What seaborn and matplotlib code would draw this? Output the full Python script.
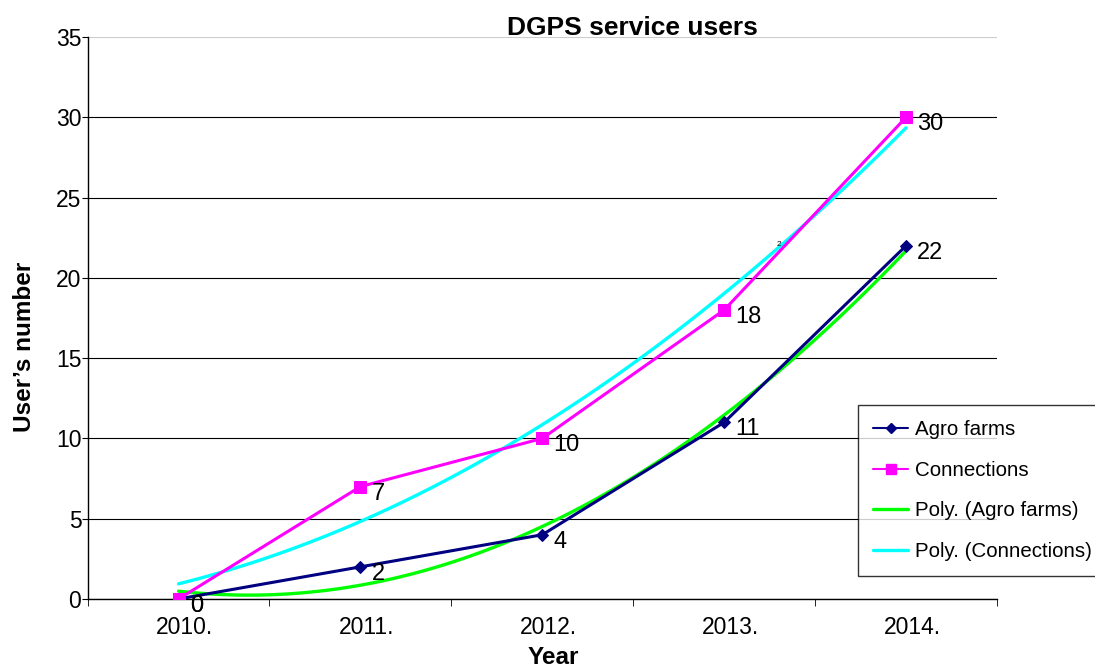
import numpy as np
import pandas as pd
import matplotlib
matplotlib.use('Agg')
import matplotlib.pyplot as plt
import matplotlib.transforms as mtransforms
import seaborn as sns
from matplotlib.lines import Line2D

# Chart data
years = ['2010.', '2011.', '2012.', '2013.', '2014.']
agro_farms = [0, 2, 4, 11, 22]
connections = [0, 7, 10, 18, 30]

sns.set_style('white')
plt.rcParams['font.family'] = ['Liberation Sans', 'DejaVu Sans']
plt.rcParams['text.color'] = 'black'
plt.rcParams['xtick.color'] = 'black'
plt.rcParams['ytick.color'] = 'black'
plt.rcParams['axes.labelcolor'] = 'black'

df = pd.DataFrame({'x': range(len(years)), 'Agro farms': agro_farms, 'Connections': connections})

fig = plt.figure(figsize=(10.95, 6.67), dpi=100)
ax = fig.add_axes([0.080, 0.102, 0.8305, 0.8425])

navy = '#000080'
magenta = '#FF00FF'
green = '#00FF00'
cyan = '#00FFFF'

# Polynomial (order 2) trendlines
sns.regplot(data=df, x='x', y='Agro farms', order=2, ci=None, scatter=False,
            line_kws={'color': green, 'lw': 2.4, 'zorder': 2}, ax=ax)
sns.regplot(data=df, x='x', y='Connections', order=2, ci=None, scatter=False,
            line_kws={'color': cyan, 'lw': 2.4, 'zorder': 2}, ax=ax)

# Data series
sns.lineplot(data=df, x='x', y='Agro farms', color=navy, lw=2.2, marker='D',
             markersize=6, markeredgecolor=navy, ax=ax, zorder=3)
sns.lineplot(data=df, x='x', y='Connections', color=magenta, lw=2.2, marker='s',
             markersize=9, markeredgecolor=magenta, ax=ax, zorder=3)

# Data labels
for xi, v in zip(df['x'], agro_farms):
    ax.annotate(str(v), (xi, v), xytext=(8, -5), textcoords='offset points',
                ha='left', va='center', fontsize=17)
for xi, v in zip(df['x'], connections):
    ax.annotate(str(v), (xi, v), xytext=(8, -5), textcoords='offset points',
                ha='left', va='center', fontsize=17)
ax.text(3.3, 22.1, '2', fontsize=6, ha='center', va='center')

ax.set_xlim(-0.5, 4.5)
ax.set_ylim(0, 35)
ax.set_yticks(range(0, 36, 5))
ax.set_xticks(range(len(years)))
ax.set_xticklabels(years)
ax.set_xticks(np.arange(-0.5, 4.6, 1), minor=True)
ax.tick_params(axis='x', which='major', length=0, labelsize=16.5, pad=12)
ax.tick_params(axis='x', which='minor', length=5, direction='out', color='black', bottom=True)
ax.tick_params(axis='y', length=4, direction='out', color='black', left=True, labelsize=16.5, pad=0.5)
shift = mtransforms.ScaledTranslation(6 / 100, 0, fig.dpi_scale_trans)
for lab in ax.get_xticklabels():
    lab.set_transform(lab.get_transform() + shift)

ax.yaxis.grid(True, color='black', lw=0.8)
ax.set_axisbelow(True)
ax.yaxis.get_gridlines()[-1].set_color('#cccccc')
for s in ['top', 'right']:
    ax.spines[s].set_visible(False)
for s in ['left', 'bottom']:
    ax.spines[s].set_color('black')
    ax.spines[s].set_linewidth(1)

ax.set_xlabel('')
ax.set_ylabel('')
fig.text(0.578, 0.9475, 'DGPS service users', fontsize=19, fontweight='bold',
         ha='center', va='baseline')
fig.text(0.505, 0.005, 'Year', fontsize=17.5, fontweight='bold', ha='center', va='baseline')
fig.text(0.022, 0.48, 'User\u2019s number', fontsize=17.5, fontweight='bold',
         ha='center', va='center', rotation=90)

handles = [
    Line2D([], [], color=navy, lw=1.5, marker='D', markersize=5),
    Line2D([], [], color=magenta, lw=1.5, marker='s', markersize=7),
    Line2D([], [], color=green, lw=2.4),
    Line2D([], [], color=cyan, lw=2.4),
]
labels = ['Agro farms', 'Connections', 'Poly. (Agro farms)', 'Poly. (Connections)']
leg = fig.legend(handles, labels, loc='upper left', bbox_to_anchor=(0.7836, 0.393),
                 fontsize=14.8, frameon=True, fancybox=False, edgecolor='black',
                 handlelength=1.7, labelspacing=1.05, borderpad=0.75, handletextpad=0.3,
                 borderaxespad=0)
leg.get_frame().set_linewidth(1)

fig.savefig('out.png', dpi=100)
